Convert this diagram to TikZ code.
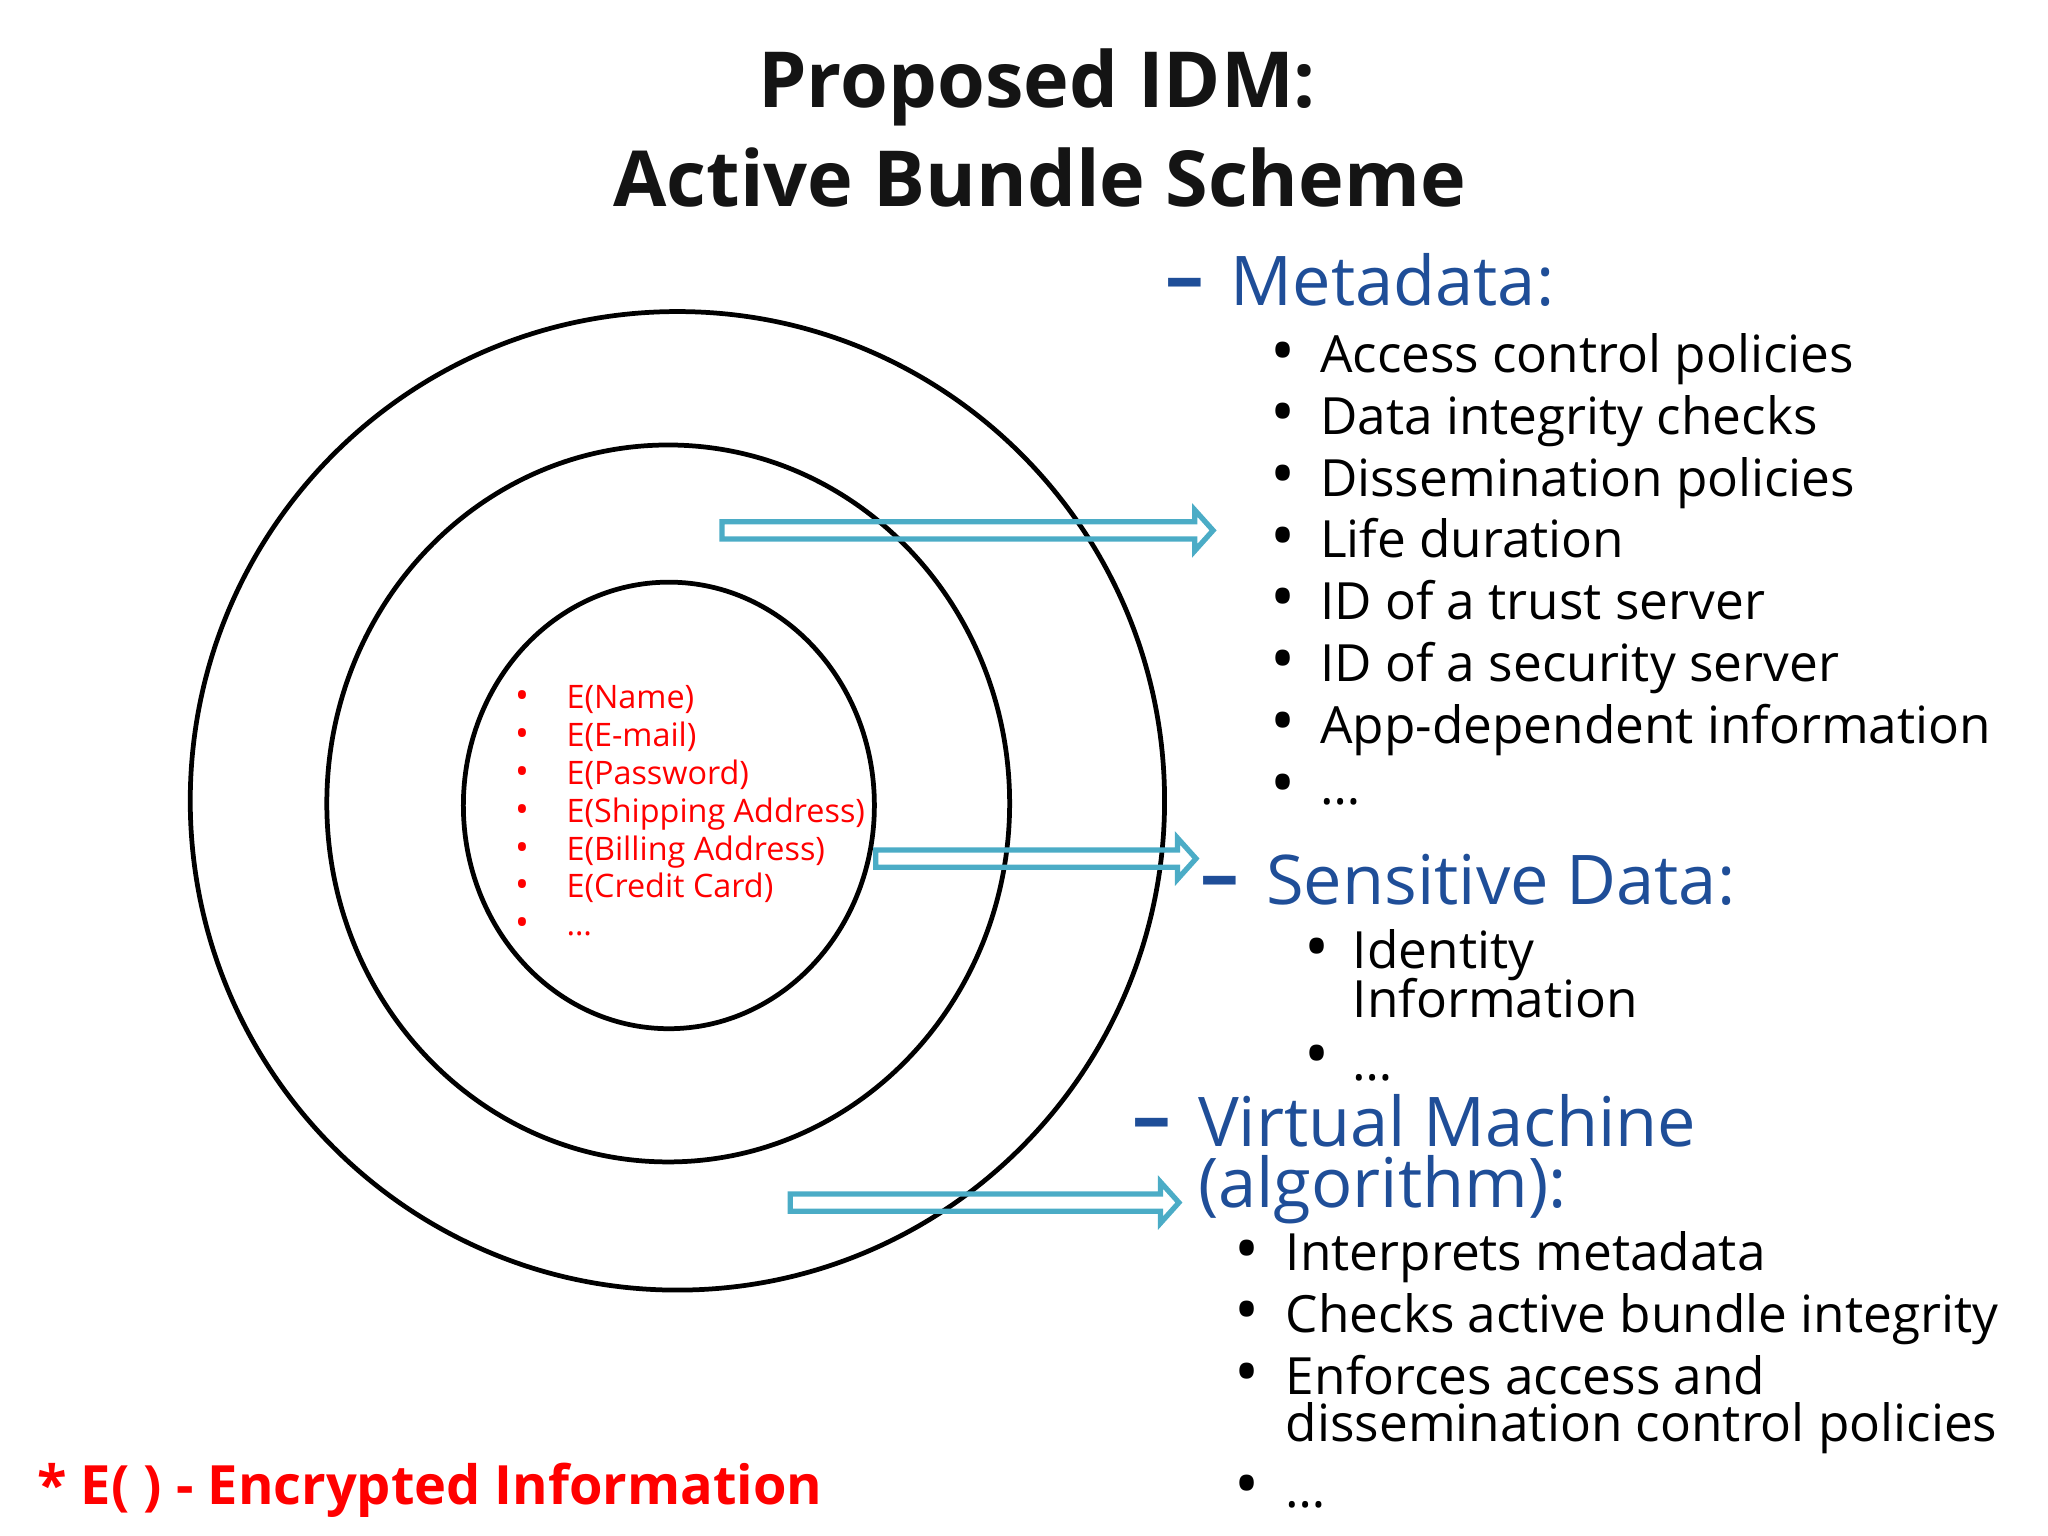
\documentclass[tikz,border=0pt]{standalone}
\usepackage{fontspec}
\setmainfont{Open Sans}
\usetikzlibrary{shapes.geometric,calc}
\definecolor{arrblue}{HTML}{4BACC6}
\definecolor{headblue}{HTML}{1F4E98}
\definecolor{encred}{HTML}{FF0000}
\newcommand{\hollowarrow}[2]{%
  \draw[hollow] ($(#1)+(0,-6.6)$) -- ($(#2)+(-14,-6.6)$) -- ($(#2)+(-14,-15.6)$) -- (#2)
    -- ($(#2)+(-14,15.6)$) -- ($(#2)+(-14,6.6)$) -- ($(#1)+(0,6.6)$) -- cycle;}
\begin{document}
\begin{tikzpicture}[x=0.013128cm, y=-0.013128cm,
  title/.style={font=\fontsize{22}{26}\selectfont\bfseries, text=black!92, anchor=base, inner sep=0},
  head/.style={font=\fontsize{19.5}{23}\selectfont, text=headblue, anchor=base west, inner sep=0},
  hdash/.style={font=\fontsize{22}{23}\selectfont\bfseries, text=headblue, anchor=base west, inner sep=0},
  item/.style={font=\fontsize{14.6}{17.5}\selectfont, anchor=base west, inner sep=0},
  bul/.style={font=\fontsize{19}{17.5}\selectfont, anchor=base, inner sep=0},
  enc/.style={font=\fontsize{9.2}{11}\selectfont, text=encred, anchor=base west, inner sep=0},
  encbul/.style={enc, font=\fontsize{10.5}{11}\selectfont, anchor=base},
  foot/.style={font=\fontsize{15.4}{18}\selectfont\bfseries, text=encred, anchor=base west, inner sep=0},
  ring/.style={ellipse, draw, line width=1.35pt, inner sep=0, outer sep=0},
  hollow/.style={draw=arrblue, line width=1.5pt, line join=miter}]
\useasboundingbox (0,0) rectangle (1560,1170);

% title
\node[title] (t1) at (790,82) {Proposed IDM:};
\node[title] (t2) at (792,157) {Active Bundle Scheme};

% rings
\node[ring, minimum width=277.1pt, minimum height=278.3pt] (outer) at (516,610) {};
\node[ring, minimum width=194.2pt, minimum height=203.9pt] (middle) at (509,612) {};
\node[ring, minimum width=116.9pt, minimum height=127pt] (inner) at (509.5,613.5) {};

% encrypted items
\foreach \t [count=\i] in {E(Name),E(E-mail),E(Password),E(Shipping Address),E(Billing Address),E(Credit Card),…} {
  \node[encbul] (eb\i) at (398,{540+28.8*(\i-1)}) {•};
  \node[enc] (e\i) at (431,{540+28.8*(\i-1)}) {\t};
}

% Metadata
\node[hdash] (md-dash) at (887,231) {–};
\node[head] (md) at (937,233) {Metadata:};
\foreach \t [count=\i] in {Access control policies,Data integrity checks,Dissemination policies,Life duration,ID of a trust server,ID of a security server,App-dependent information,…} {
  \node[bul] (mb\i) at (977,{285+47*(\i-1)}) {•};
  \node[item] (m\i) at (1005,{284+47*(\i-1)}) {\t};
}

% Sensitive data
\node[hdash] (sd-dash) at (914,687) {–};
\node[head] (sd) at (964,689) {Sensitive Data:};
\node[bul] (sb1) at (1003,739) {•};
\node[item] (s1a) at (1030,738) {Identity};
\node[item] (s1b) at (1030,775) {Information};
\node[bul] (sb2) at (1003,821) {•};
\node[item] (s2) at (1030,823) {…};

% Virtual machine
\node[hdash] (vm-dash) at (862,871) {–};
\node[head] (vm1) at (912,873) {Virtual Machine};
\node[head] (vm2) at (912,920) {(algorithm):};
\node[bul] (vb1) at (950,969) {•};
\node[item] (v1) at (979,968) {Interprets metadata};
\node[bul] (vb2) at (950,1016) {•};
\node[item] (v2) at (979,1015) {Checks active bundle integrity};
\node[bul] (vb3) at (950,1063) {•};
\node[item] (v3a) at (979,1062) {Enforces access and};
\node[item] (v3b) at (979,1098) {dissemination control policies};
\node[bul] (vb4) at (950,1148) {•};
\node[item] (v4) at (979,1148) {…};

% footer
\node[foot] (note) at (28,1146) {* E( ) - Encrypted Information};

% arrows
\coordinate (a1s) at (550,404);
\coordinate (a1e) at (924,404);
\coordinate (a2s) at (667,654);
\coordinate (a2e) at (911,654);
\coordinate (a3s) at (602,916);
\coordinate (a3e) at (898,916);
\hollowarrow{a1s}{a1e}
\hollowarrow{a2s}{a2e}
\hollowarrow{a3s}{a3e}
\end{tikzpicture}
\end{document}
